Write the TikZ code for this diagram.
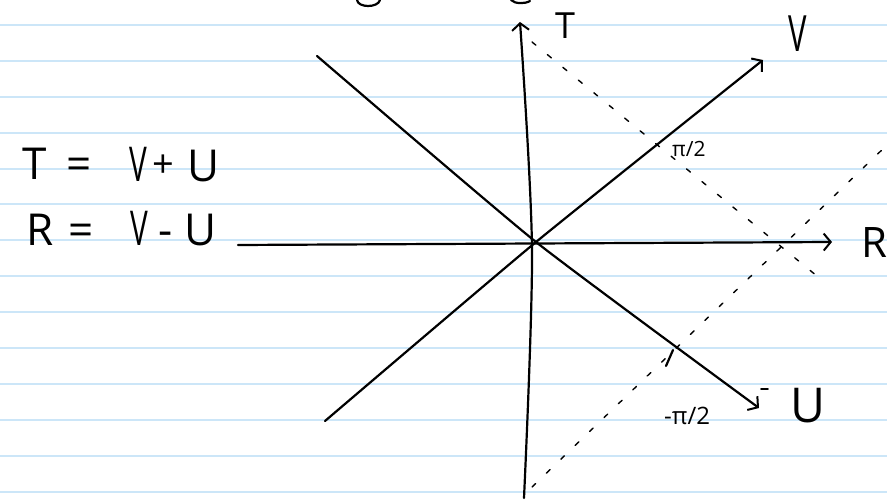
\documentclass[tikz,border=0pt]{standalone}
\usepackage{fontspec}
\usepackage{graphicx}
\setmainfont{Open Sans}
\usetikzlibrary{arrows.meta}
\definecolor{ruled}{RGB}{204,230,248}
\newcommand{\narrowV}{\scalebox{0.62}[1]{V}}
\begin{document}
\begin{tikzpicture}[x=1pt,y=-1pt,
  ink/.style={line width=2.2pt, line cap=round, line join=round},
  axisarrow/.style={ink, -{Straight Barb[length=7pt,width=17pt,line width=2pt]}},
  guide/.style={line width=1.4pt, dash pattern=on 5pt off 15pt, line cap=round},
  big/.style={inner sep=0pt, anchor=base, font=\fontsize{44}{44}\selectfont},
  small/.style={inner sep=0pt, anchor=base west, font=\fontsize{21}{21}\selectfont}]
\useasboundingbox (0,0) rectangle (887,500);
\fill[white] (0,0) rectangle (887,500);
\foreach \k in {0,...,13}
  \draw[ruled, line width=2pt] (0,{25+35.9*\k}) -- (887,{25+35.9*\k});

% partial handwriting cut at the top edge
\draw[ink] (357,0) .. controls (358,8) and (378,8) .. (380,0);
\draw[ink] (511,0) .. controls (515,4) and (525,4) .. (530,1);

% named points
\coordinate (O) at (536,242);
\coordinate (Tbot) at (524,498);
\coordinate (Ttop) at (520,22);
\coordinate (Rl) at (238,245);
\coordinate (Rr) at (832,242);
\coordinate (Vl) at (325,421);
\coordinate (Vr) at (763,60);
\coordinate (Ul) at (317,56);
\coordinate (Ur) at (759,408);
\coordinate (d1a) at (532,42);
\coordinate (d1b) at (823,281);
\coordinate (d2a) at (532,487);
\coordinate (d2b) at (887,145);

% guide lines
\draw[guide] (d1a) -- (d1b);
\draw[guide] (d2a) -- (d2b);

% axes
\draw[axisarrow] plot[smooth,tension=0.5] coordinates {(Tbot) (532,250) (Ttop)};
\draw[axisarrow] (Rl) -- (Rr);
\draw[axisarrow] plot[smooth,tension=0.3] coordinates {(Vl) (O) (Vr)};
\draw[axisarrow] plot[smooth,tension=0.3] coordinates {(Ul) (O) (Ur)};

% ticks
\draw[ink] (673,350) -- (666,366);
\draw[ink,line width=1.8pt] (761,389) -- (768,389);

% axis labels
\node[big,font=\fontsize{36}{36}\selectfont] (lT) at (565,39) {T};
\node[big,font=\fontsize{50}{50}\selectfont] (lV) at (798,52) {\narrowV};
\node[big,anchor=base west,font=\fontsize{42}{42}\selectfont] (lR) at (861,257) {R};
\node[big,font=\fontsize{48}{48}\selectfont] (lU) at (808,422) {U};
\node[small] (pp) at (672,157) {π/2};
\node[small,font=\fontsize{24}{24}\selectfont] (mp) at (664,424) {-π/2};

% equations
\node[big] (e1a) at (35,180) {T};
\node[big] (e1b) at (79,180) {=};
\node[big,font=\fontsize{48}{48}\selectfont] (e1c) at (138,182) {\narrowV};
\node[big,font=\fontsize{38}{38}\selectfont] (e1d) at (163,178) {+};
\node[big] (e1e) at (204,182) {U};
\node[big] (e2a) at (40,245) {R};
\node[big] (e2b) at (81,245) {=};
\node[big,font=\fontsize{48}{48}\selectfont] (e2c) at (139,245) {\narrowV};
\node[big] (e2d) at (166,245) {-};
\node[big] (e2e) at (201,245) {U};
\end{tikzpicture}
\end{document}
